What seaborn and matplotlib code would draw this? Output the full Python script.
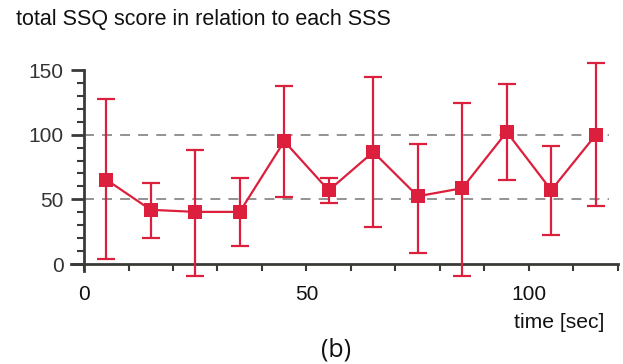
import matplotlib
matplotlib.use("Agg")
import matplotlib.pyplot as plt
from matplotlib.ticker import FixedLocator
import seaborn as sns
import pandas as pd
import numpy as np

# ---- data ----
time_sec = [5, 15, 25, 35, 45, 55, 65, 75, 85, 95, 105, 115]
ssq_mean = [65.2, 41.9, 40.3, 40.3, 94.9, 56.9, 86.6, 52.4, 58.6, 102.1, 57.1, 99.8]
ssq_upper = [127.5, 63.0, 88.1, 66.7, 137.8, 66.7, 144.3, 92.8, 124.4, 139.1, 91.2, 155.6]
ssq_lower = [3.9, 20.4, -9.6, 13.7, 51.7, 46.8, 28.9, 8.8, -9.6, 65.2, 22.2, 45.0]
x_ticklabels = ["0", "50", "100"]
y_ticklabels = ["0", "50", "100", "150"]
title_text = "total SSQ score in relation to each SSS"
xlabel_text = "time [sec]"
caption_text = "(b)"

sns.set_theme(style="ticks")
plt.rcParams["font.family"] = ["Liberation Sans", "DejaVu Sans"]

RED = "#DC1F3C"
AXC = "#3A3A36"

W, H = 623, 364
fig = plt.figure(figsize=(W / 100, H / 100), dpi=100)

# axes placement in pixels: x=0 -> 84px, x=120 -> 618px ; y=0 -> 264px, y=150 -> 70px
xmin, xmax = -4, 120.5
ymin, ymax = -12, 160
ppx = (618 - 84) / 120
ppy = (264 - 70) / 150
left_px = 84 + xmin * ppx
right_px = 84 + xmax * ppx
bot_px = 264 - ymin * ppy
top_px = 70 - (ymax - 150) * ppy
ax = fig.add_axes([left_px / W, 1 - bot_px / H, (right_px - left_px) / W, (bot_px - top_px) / H])
ax.set_xlim(xmin, xmax)
ax.set_ylim(ymin, ymax)

df = pd.DataFrame({"time": time_sec, "ssq": ssq_mean})
m = np.array(ssq_mean)
yerr = np.vstack([m - np.array(ssq_lower), np.array(ssq_upper) - m])

# dashed reference lines
ax.hlines([50, 100], 0, 118, colors="#8a8a8a", linestyles=(0, (5.5, 4.5)), linewidth=1.3, zorder=1)

ax.errorbar(time_sec, ssq_mean, yerr=yerr, fmt="none", ecolor=RED, elinewidth=1.6,
            capsize=6.5, capthick=1.6, zorder=2)
sns.lineplot(data=df, x="time", y="ssq", ax=ax, color=RED, linewidth=1.6, marker="s",
             markersize=10.5, markeredgewidth=0, zorder=3)

# spines
for s in ["top", "right"]:
    ax.spines[s].set_visible(False)
ax.spines["left"].set_position(("data", 0))
ax.spines["left"].set_bounds(-5.5, 150)
ax.spines["bottom"].set_position(("data", 0))
ax.spines["bottom"].set_bounds(-3, 120)
for s in ["left", "bottom"]:
    ax.spines[s].set_color(AXC)
    ax.spines[s].set_linewidth(2)
    ax.spines[s].set_zorder(1.5)

ax.xaxis.set_major_locator(FixedLocator([0, 50, 100]))
ax.set_xticklabels(x_ticklabels)
ax.xaxis.set_minor_locator(FixedLocator([10, 20, 30, 40, 60, 70, 80, 90, 110, 120]))
ax.yaxis.set_major_locator(FixedLocator([0, 50, 100, 150]))
ax.set_yticklabels(y_ticklabels)
ax.yaxis.set_minor_locator(FixedLocator([10, 20, 30, 40, 60, 70, 80, 90, 110, 120, 130, 140]))

ax.tick_params(axis="x", which="both", direction="out", length=5, width=1.5, color=AXC,
               labelsize=15, labelcolor="#111111", pad=10)
ax.tick_params(axis="y", which="major", direction="out", length=9.5, width=2, color=AXC,
               labelsize=15, labelcolor="#333333", pad=5)
ax.tick_params(axis="y", which="minor", direction="out", length=5, width=1.5, color=AXC)

ax.set_xlabel("")
ax.set_ylabel("")
ax.set_facecolor("white")

fig.text(16 / W, 1 - 19 / H, title_text, ha="left", va="center", fontsize=15.5, color="#111111")
fig.text(604 / W, 1 - 323 / H, xlabel_text, ha="right", va="center", fontsize=15.2, color="#111111")
fig.text(336 / W, 1 - 350 / H, caption_text, ha="center", va="center", fontsize=18, color="#111111",
         family=["Open Sans", "DejaVu Sans"])

fig.savefig("out.png", dpi=100, facecolor="white")
